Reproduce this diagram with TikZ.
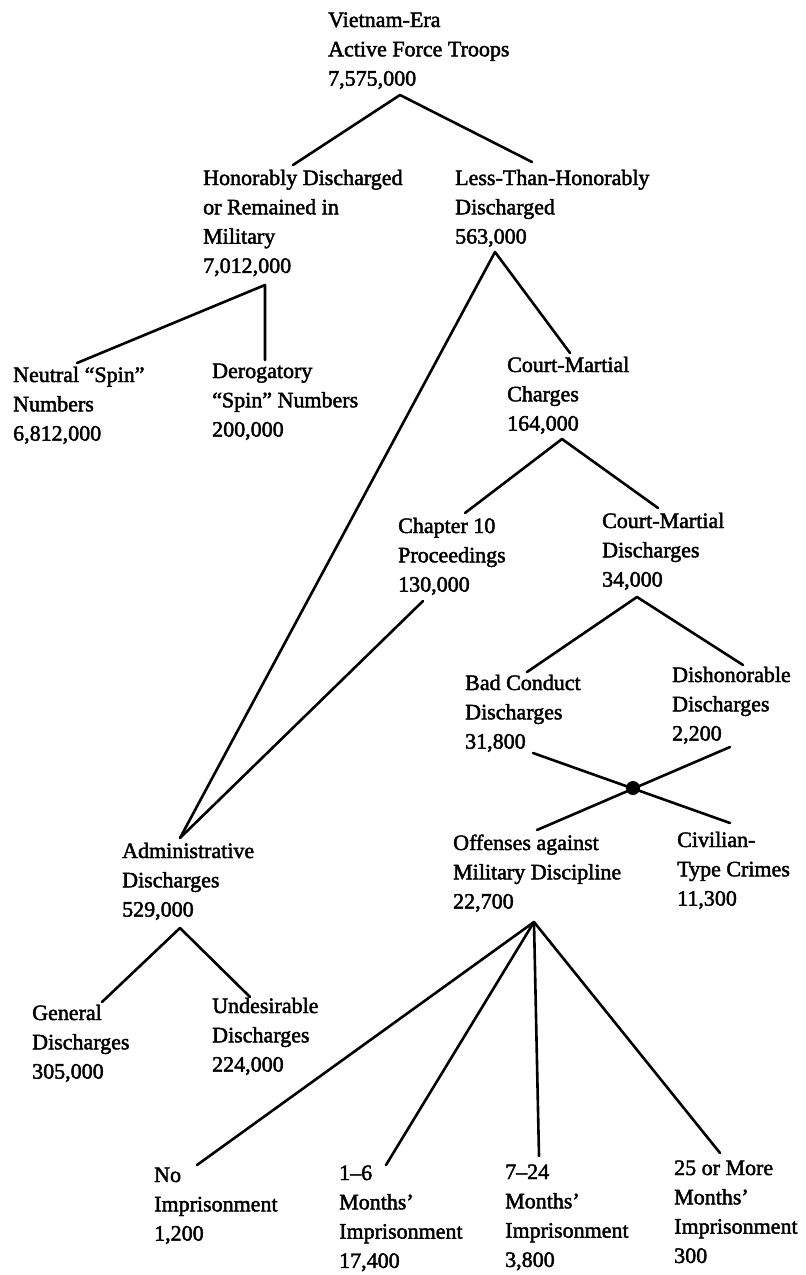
\documentclass[tikz,border=0pt]{standalone}
\usepackage{fontspec}
\setmainfont{Liberation Serif}
\newfontfamily\inkfont{Liberation Serif}[Ligatures=TeX, FakeBold=2]
% a left-aligned block of lines whose baseline is that of its first line
\newcommand\stacktext[1]{\begin{tabular}[t]{@{}l@{}}#1\end{tabular}}
\begin{document}
\begin{tikzpicture}[x=1pt,y=-1pt,
  lbl/.style={anchor=base west, inner sep=0pt,
              font=\inkfont\fontsize{22}{29.3}\selectfont},
  link/.style={line width=2.6pt, line cap=round, line join=round},
  hub/.style={circle, fill=black, inner sep=0pt, minimum size=14pt}]
\useasboundingbox (0,0) rectangle (806,1275);

% ---- text nodes (positioned by the baseline of their first line)
\node[lbl] (root) at (328,27)  {\stacktext{Vietnam-Era\\Active Force Troops\\7,575,000}};
\node[lbl] (hon)  at (203,185) {\stacktext{Honorably Discharged\\or Remained in\\Military\\7,012,000}};
\node[lbl] (less) at (455,185) {\stacktext{Less-Than-Honorably\\Discharged\\563,000}};
\node[lbl] (neu)  at (13,382)  {\stacktext{Neutral ``Spin''\\Numbers\\6,812,000}};
\node[lbl] (der)  at (212,378) {\stacktext{Derogatory\\``Spin'' Numbers\\200,000}};
\node[lbl] (cmc)  at (507,372) {\stacktext{Court-Martial\\Charges\\164,000}};
\node[lbl] (ch10) at (398,533) {\stacktext{Chapter 10\\Proceedings\\130,000}};
\node[lbl] (cmd)  at (602,528) {\stacktext{Court-Martial\\Discharges\\34,000}};
\node[lbl] (bcd)  at (465,690) {\stacktext{Bad Conduct\\Discharges\\31,800}};
\node[lbl] (dis)  at (672,682) {\stacktext{Dishonorable\\Discharges\\2,200}};
\node[lbl] (off)  at (453,850) {\stacktext{Offenses against\\Military Discipline\\22,700}};
\node[lbl] (civ)  at (677,847) {\stacktext{Civilian-\\Type Crimes\\11,300}};
\node[lbl] (adm)  at (122,858) {\stacktext{Administrative\\Discharges\\529,000}};
\node[lbl] (gen)  at (32,1020) {\stacktext{General\\Discharges\\305,000}};
\node[lbl] (und)  at (212,1013) {\stacktext{Undesirable\\Discharges\\224,000}};
\node[lbl] (none) at (154,1182) {\stacktext{No\\Imprisonment\\1,200}};
\node[lbl] (m16)  at (339,1180) {\stacktext{1--6\\Months'\\Imprisonment\\17,400}};
\node[lbl] (m724) at (505,1179) {\stacktext{7--24\\Months'\\Imprisonment\\3,800}};
\node[lbl] (m25)  at (674,1175) {\stacktext{25 or More\\Months'\\Imprisonment\\300}};

% ---- branch points and line ends
\coordinate (rootB) at (400,95);
\coordinate (honT)  at (293,165);
\coordinate (lessT) at (532,162);
\coordinate (honB)  at (265,285);
\coordinate (neuT)  at (77,363);
\coordinate (derT)  at (265,360);
\coordinate (lessB) at (495,252);
\coordinate (cmcT)  at (570,353);
\coordinate (admT)  at (180,838);
\coordinate (cmcB)  at (562,439);
\coordinate (ch10T) at (465,513);
\coordinate (cmdT)  at (658,508);
\coordinate (ch10B) at (423,601);
\coordinate (cmdB)  at (637,597);
\coordinate (bcdT)  at (527,672);
\coordinate (disT)  at (743,665);
\coordinate (bcdB)  at (533,753);
\coordinate (disB)  at (730,747);
\coordinate (offT)  at (537,830);
\coordinate (civT)  at (730,823);
\coordinate (admB)  at (180,928);
\coordinate (genT)  at (102,1002);
\coordinate (undT)  at (250,997);
\coordinate (offB)  at (534,922);
\coordinate (noneT) at (197,1165);
\coordinate (m16T)  at (386,1165);
\coordinate (m724T) at (539,1156);
\coordinate (m25T)  at (720,1153);

% ---- connectors
\draw[link] (honT) -- (rootB) -- (lessT);
\draw[link] (neuT) -- (honB) -- (derT);
\draw[link] (admT) -- (lessB) -- (cmcT);
\draw[link] (ch10T) -- (cmcB) -- (cmdT);
\draw[link] (ch10B) -- (admT);
\draw[link] (bcdT) -- (cmdB) -- (disT);
\draw[link] (bcdB) -- (civT);
\draw[link] (disB) -- (offT);
\node[hub] (cross) at (633,788) {};
\draw[link] (genT) -- (admB) -- (undT);
\draw[link] (offB) -- (noneT);
\draw[link] (offB) -- (m16T);
\draw[link] (offB) -- (m724T);
\draw[link] (offB) -- (m25T);
\end{tikzpicture}
\end{document}
